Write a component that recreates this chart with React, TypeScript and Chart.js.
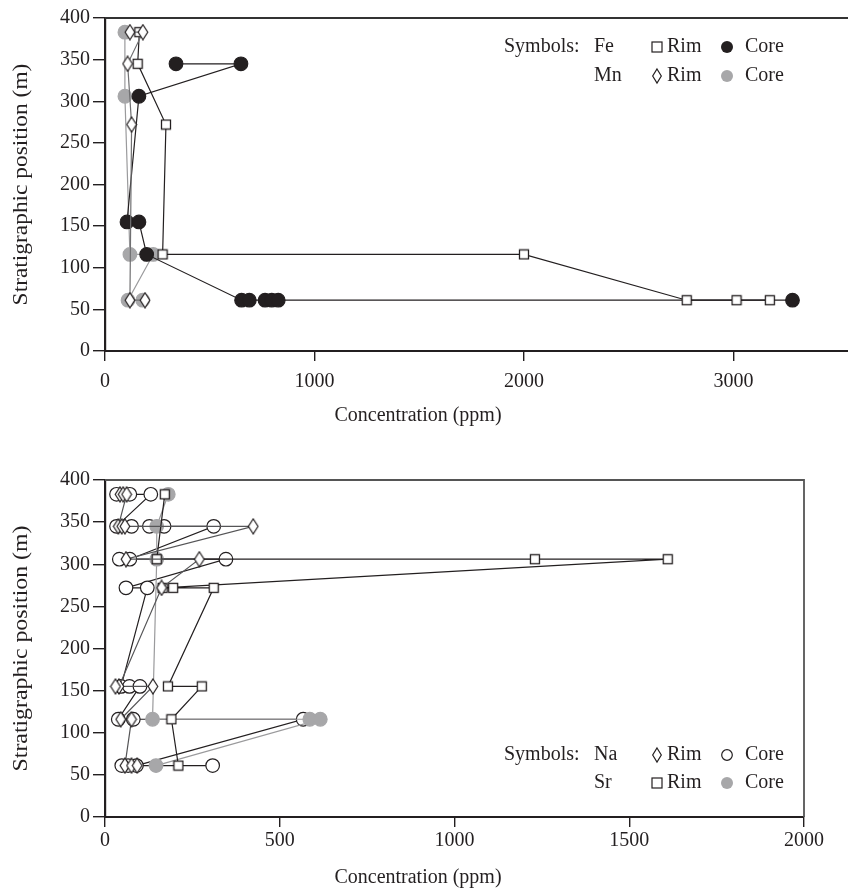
import React, { useEffect, useRef } from "react";
import { Chart, registerables } from "chart.js";

Chart.register(...registerables);

const FONT = '"Liberation Serif", "Times New Roman", Times, serif';
const INK = "#231f20";
const GREY = "#a7a7a9";
const LINE_GREY = "#9a9a9c";

// ---------- axis ticks ----------
const yTickValues = [0, 50, 100, 150, 200, 250, 300, 350, 400];
const topXTicks = [0, 1000, 2000, 3000];
const botXTicks = [0, 500, 1000, 1500, 2000];

// ---------- top chart: Fe & Mn (ppm vs stratigraphic position, m) ----------
const feRimX = [164, 156, 291, 275, 2000, 2777, 3015, 3174];
const feRimY = [383, 345, 272, 116, 116, 61, 61, 61];

const feCoreX = [339, 649, 162, 105, 162, 199, 652, 689, 764, 796, 827, 3282];
const feCoreY = [345, 345, 306, 155, 155, 116, 61, 61, 61, 61, 61, 61];

const mnRimX = [119, 181, 108, 127, 119, 191];
const mnRimY = [383, 383, 345, 272, 61, 61];

const mnCoreX = [95, 95, 119, 230, 110, 180];
const mnCoreY = [383, 306, 116, 116, 61, 61];

// ---------- bottom chart: Na & Sr ----------
const naRimX = [43, 52, 62, 38, 48, 57, 424, 60, 270, 162, 40, 30, 137, 45, 76, 57, 76, 92];
const naRimY = [383, 383, 383, 345, 345, 345, 345, 306, 306, 272, 155, 155, 155, 116, 116, 61, 61, 61];

const naCoreX = [33, 71, 131, 33, 76, 127, 169, 311, 71, 41, 346, 60, 121, 46, 70, 100, 38, 81, 567, 90, 66, 48, 308];
const naCoreY = [383, 383, 383, 345, 345, 345, 345, 345, 306, 306, 306, 272, 272, 155, 155, 155, 116, 116, 116, 61, 61, 61, 61];

const srRimX = [171, 148, 1230, 1610, 165, 195, 311, 180, 277, 190, 210];
const srRimY = [383, 306, 306, 306, 272, 272, 272, 155, 155, 116, 61];

const srCoreX = [181, 148, 148, 136, 586, 616, 146];
const srCoreY = [383, 345, 306, 116, 116, 116, 61];

// legend texts
const topLegendNames = ["Fe", "Mn"];
const botLegendNames = ["Na", "Sr"];

const toPoints = (xs: number[], ys: number[]) => xs.map((x, i) => ({ x, y: ys[i] }));

function makeSquare(): HTMLCanvasElement {
  const c = document.createElement("canvas");
  c.width = 12;
  c.height = 12;
  const g = c.getContext("2d")!;
  g.fillStyle = "#fff";
  g.fillRect(1, 1, 10, 10);
  g.strokeStyle = INK;
  g.lineWidth = 1.3;
  g.strokeRect(1.5, 1.5, 9, 9);
  return c;
}

function makeDiamond(): HTMLCanvasElement {
  const c = document.createElement("canvas");
  c.width = 12;
  c.height = 17;
  const g = c.getContext("2d")!;
  g.beginPath();
  g.moveTo(6, 1);
  g.lineTo(10.8, 8.5);
  g.lineTo(6, 16);
  g.lineTo(1.2, 8.5);
  g.closePath();
  g.fillStyle = "#fff";
  g.fill();
  g.strokeStyle = INK;
  g.lineWidth = 1.2;
  g.stroke();
  return c;
}

function drawGlyph(ctx: CanvasRenderingContext2D, kind: string, x: number, y: number) {
  ctx.save();
  ctx.lineWidth = 1.2;
  ctx.strokeStyle = INK;
  if (kind === "square") {
    ctx.fillStyle = "#fff";
    ctx.fillRect(x - 5, y - 5, 10, 10);
    ctx.strokeRect(x - 5, y - 5, 10, 10);
  } else if (kind === "diamond") {
    ctx.beginPath();
    ctx.moveTo(x, y - 7);
    ctx.lineTo(x + 4.3, y);
    ctx.lineTo(x, y + 7);
    ctx.lineTo(x - 4.3, y);
    ctx.closePath();
    ctx.stroke();
  } else if (kind === "white") {
    ctx.beginPath();
    ctx.arc(x, y, 5.3, 0, Math.PI * 2);
    ctx.stroke();
  } else {
    ctx.beginPath();
    ctx.arc(x, y, 6, 0, Math.PI * 2);
    ctx.fillStyle = kind === "black" ? INK : GREY;
    ctx.fill();
  }
  ctx.restore();
}

interface DecorOpts {
  rightBorder: boolean;
  frameColor: string;
  xTitleX: number;
  xTitleY: number;
  yTitleX: number;
  yTitleStretch: number;
  legendY: number[];
  legendNames: string[];
  legendRim: string[];
  legendCore: string[];
}

function decorPlugin(o: DecorOpts) {
  return {
    id: "decor",
    afterDraw(chart: any) {
      const ctx: CanvasRenderingContext2D = chart.ctx;
      const a = chart.chartArea;
      ctx.save();
      // frame
      ctx.strokeStyle = o.frameColor;
      ctx.lineWidth = 1.8;
      ctx.beginPath();
      ctx.moveTo(a.left, a.top);
      ctx.lineTo(a.right, a.top);
      if (o.rightBorder) ctx.lineTo(a.right, a.bottom);
      ctx.stroke();

      ctx.fillStyle = INK;
      ctx.font = `20px ${FONT}`;
      ctx.textBaseline = "middle";
      ctx.textAlign = "center";
      ctx.fillText("Concentration (ppm)", o.xTitleX, o.xTitleY);

      ctx.save();
      ctx.translate(o.yTitleX, (a.top + a.bottom) / 2);
      ctx.rotate(-Math.PI / 2);
      ctx.scale(o.yTitleStretch, 1);
      ctx.fillText("Stratigraphic position (m)", 0, 0);
      ctx.restore();

      // legend
      ctx.textAlign = "left";
      ctx.fillText("Symbols:", 504, o.legendY[0]);
      o.legendNames.forEach((name, i) => {
        const y = o.legendY[i];
        ctx.fillStyle = INK;
        ctx.fillText(name, 594, y);
        drawGlyph(ctx, o.legendRim[i], 657, y);
        ctx.fillStyle = INK;
        ctx.fillText("Rim", 667, y);
        drawGlyph(ctx, o.legendCore[i], 727, y);
        ctx.fillStyle = INK;
        ctx.fillText("Core", 745, y);
      });
      ctx.restore();
    },
  };
}

function scales(xMax: number, xTicks: number[], xHeight: number, xPad: number) {
  const font = { family: FONT, size: 20 };
  return {
    x: {
      type: "linear",
      min: 0,
      max: xMax,
      afterFit: (s: any) => {
        s.height = xHeight;
      },
      afterBuildTicks: (s: any) => {
        s.ticks = xTicks.map((v) => ({ value: v }));
      },
      ticks: {
        font,
        color: INK,
        padding: xPad,
        includeBounds: false,
        autoSkip: false,
        maxRotation: 0,
        callback: (v: any) => String(v),
      },
      grid: { display: true, drawOnChartArea: false, drawTicks: true, tickLength: 10, color: INK, lineWidth: 1.4 },
      border: { display: true, color: INK, width: 2 },
    },
    y: {
      type: "linear",
      min: 0,
      max: 400,
      afterFit: (s: any) => {
        s.width = 105;
      },
      afterBuildTicks: (s: any) => {
        s.ticks = yTickValues.map((v) => ({ value: v }));
      },
      ticks: { font, color: INK, padding: 3, autoSkip: false, callback: (v: any) => String(v) },
      grid: { display: true, drawOnChartArea: false, drawTicks: true, tickLength: 12, color: INK, lineWidth: 1.4 },
      border: { display: true, color: INK, width: 2.2 },
    },
  };
}

function series(label: string, xs: number[], ys: number[], marker: any, lineColor: string) {
  const base: any = {
    label,
    data: toPoints(xs, ys),
    showLine: true,
    borderColor: lineColor,
    borderWidth: 1.2,
    tension: 0,
    pointHoverRadius: 0,
  };
  if (marker.canvas) {
    base.pointStyle = marker.canvas;
    base.pointRadius = 6;
  } else {
    base.pointStyle = "circle";
    base.pointRadius = 6.8;
    base.pointBackgroundColor = marker.fill;
    base.pointBorderColor = marker.stroke;
    base.pointBorderWidth = 1.2;
  }
  return base;
}

export default function App() {
  const topRef = useRef<HTMLCanvasElement>(null);
  const botRef = useRef<HTMLCanvasElement>(null);

  useEffect(() => {
    const sq = makeSquare();
    const di = makeDiamond();
    const common = {
      animation: false,
      responsive: false,
      maintainAspectRatio: false,
      events: [],
      plugins: { legend: { display: false }, tooltip: { enabled: false } },
    };

    const top = new Chart(topRef.current!, {
      type: "scatter",
      data: {
        datasets: [
          series("Mn rim", mnRimX, mnRimY, { canvas: di }, "#707072"),
          series("Fe rim", feRimX, feRimY, { canvas: sq }, INK),
          series("Fe core", feCoreX, feCoreY, { fill: INK, stroke: INK }, INK),
          series("Mn core", mnCoreX, mnCoreY, { fill: GREY, stroke: GREY }, LINE_GREY),
        ],
      },
      options: {
        ...common,
        layout: { autoPadding: false, padding: { left: 0, top: 18, right: 0, bottom: 0 } },
        scales: scales(3547, topXTicks, 89, 9),
      } as any,
      plugins: [
        decorPlugin({
          rightBorder: false,
          frameColor: "#333333",
          xTitleX: 418,
          xTitleY: 416,
          yTitleX: 22,
          yTitleStretch: 1.17,
          legendY: [47, 76],
          legendNames: topLegendNames,
          legendRim: ["square", "diamond"],
          legendCore: ["black", "grey"],
        }),
      ],
    });

    const bot = new Chart(botRef.current!, {
      type: "scatter",
      data: {
        datasets: [
          series("Na rim", naRimX, naRimY, { canvas: di }, "#555557"),
          series("Sr rim", srRimX, srRimY, { canvas: sq }, INK),
          series("Sr core", srCoreX, srCoreY, { fill: GREY, stroke: GREY }, LINE_GREY),
          series("Na core", naCoreX, naCoreY, { fill: "#ffffff", stroke: INK }, INK),
        ],
      },
      options: {
        ...common,
        layout: { autoPadding: false, padding: { left: 0, top: 40, right: 44, bottom: 0 } },
        scales: scales(2000, botXTicks, 78, 2),
      } as any,
      plugins: [
        decorPlugin({
          rightBorder: true,
          frameColor: "#555555",
          xTitleX: 418,
          xTitleY: 438,
          yTitleX: 22,
          yTitleStretch: 1.19,
          legendY: [315, 343],
          legendNames: botLegendNames,
          legendRim: ["diamond", "square"],
          legendCore: ["white", "grey"],
        }),
      ],
    });

    return () => {
      top.destroy();
      bot.destroy();
    };
  }, []);

  return (
    <div style={{ position: "absolute", left: 0, top: 0, width: 848, height: 895, background: "#fff" }}>
      <canvas ref={topRef} width={848} height={440} style={{ position: "absolute", left: 0, top: 0, width: 848, height: 440 }} />
      <canvas ref={botRef} width={848} height={455} style={{ position: "absolute", left: 0, top: 440, width: 848, height: 455 }} />
    </div>
  );
}
